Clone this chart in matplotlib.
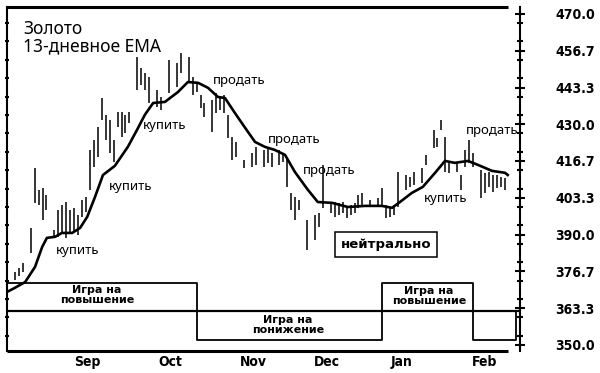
import matplotlib
matplotlib.use("Agg")
import matplotlib.pyplot as plt
from matplotlib.ticker import FixedLocator, MultipleLocator

# ---------------- data ----------------
bar_days = [2, 3, 4, 6, 7, 8, 9, 10, 12, 13, 14, 15, 16, 17, 18, 19, 20,
            21, 22, 23, 24, 25, 26, 27, 28, 29, 30, 31, 33, 34, 35, 36, 38, 39,
            41, 43, 44, 46, 47, 48, 49, 50, 52, 53, 54, 55, 56, 57, 58, 60, 62,
            63, 65, 66, 67, 69, 70, 71, 72, 73, 74, 76, 78, 79, 80, 82, 83, 84,
            85, 86, 87, 88, 89, 90, 92, 94, 95, 96, 97, 98, 99, 101, 102, 103,
            105, 106, 108, 109, 110, 111, 112, 114, 115, 116, 117, 118, 120,
            121, 122, 123, 124, 125, 126]
bar_high = [376.5, 377.9, 379.7, 392.4, 414.2, 406.2, 406.9, 404.4, 391.7, 398.9,
            400.8, 401.8, 398.9, 399.7, 397.1, 402.6, 403.7,
            420.7, 424.3, 429.0, 439.5, 433.4, 431.6, 424.3, 434.5, 434.5, 433.4,
            434.5, 454.4, 450.4, 448.6, 447.2, 442.4, 439.9,
            453.3, 452.2, 455.9, 454.4, 447.2, 445.3, 440.6, 437.7, 438.8, 441.4,
            439.9, 440.6, 433.4, 425.4, 423.6, 417.1, 419.6,
            421.8, 420.7, 421.4, 419.6, 420.7, 419.6, 418.2, 405.1, 403.7, 402.6,
            395.3, 397.1, 397.9, 415.3, 401.8, 401.8, 401.5,
            401.8, 400.0, 400.8, 401.5, 404.4, 405.1, 402.6, 403.3, 406.9, 400.8,
            400.0, 400.8, 412.7, 411.6, 410.9, 412.7,
            414.2, 418.9, 427.9, 425.0, 431.6, 425.4, 416.3, 416.0, 411.6, 420.7,
            424.3, 419.6, 413.4,
            412.4, 412.7, 411.6, 411.6, 410.9, 410.5]
bar_low = [373.6, 375.0, 376.5, 383.4, 401.5, 400.8, 395.3, 398.9, 389.2, 389.2,
           391.0, 388.8, 390.6, 391.0, 389.9, 396.4, 398.2,
           406.2, 414.5, 418.2, 431.6, 424.3, 419.6, 416.3, 429.0, 425.4, 426.8,
           430.5, 442.4, 444.3, 442.4, 437.7, 436.3, 435.2,
           441.4, 443.5, 448.6, 445.3, 440.6, 441.7, 435.9, 432.7, 427.2, 434.1,
           435.2, 434.1, 425.0, 417.1, 418.2, 414.2, 414.5,
           415.3, 414.5, 416.0, 414.5, 415.3, 416.3, 407.3, 398.9, 395.3, 398.9,
           384.4, 388.1, 392.8, 399.7, 397.9, 396.4, 397.1,
           397.9, 396.0, 397.1, 397.9, 399.7, 400.0, 400.0, 400.0, 400.0, 396.0,
           396.4, 397.1, 400.0, 406.2, 407.3, 407.9,
           408.8, 415.3, 421.4, 421.8, 427.9, 412.7, 412.4, 412.7, 406.2, 414.5,
           416.0, 414.5, 403.3,
           405.1, 407.3, 405.5, 406.9, 407.3, 406.2]

ema_days = [0, 2, 4.6, 7.1, 8.9, 10.1, 12.2, 13.9, 16.5, 18.5, 20.3, 22.3, 24.3,
            27.3, 30.6, 32.9, 34.9, 37.0, 40.0, 43.3, 45.8, 48.4, 50.9, 53.4,
            55.2, 57.7, 60.3, 62.8, 65.3, 67.8, 70.4, 72.9, 76.2, 78.7, 82.3,
            86.3, 90.6, 94.9, 97.5, 99.5, 102.5, 105.3, 108.4, 110.9, 113.4,
            116.7, 119.2, 122.8, 126.1, 126.8]
ema_vals = [369.2, 370.7, 372.8, 378.3, 385.5, 388.8, 389.2, 390.6, 390.6, 392.4,
            396.4, 403.7, 411.6, 414.9, 421.8, 427.9, 433.4, 437.7, 438.1, 441.7,
            445.3, 445.0, 443.2, 439.9, 439.5, 434.1, 428.7, 423.6, 421.8, 420.7,
            418.9, 412.7, 406.2, 401.8, 401.5, 400.0, 400.4, 400.4, 399.7, 401.8,
            405.1, 407.3, 412.4, 416.7, 416.0, 416.7, 415.3, 413.1, 412.4, 411.6]

month_labels = ["Sep", "Oct", "Nov", "Dec", "Jan", "Feb"]
month_days = [20.3, 41.3, 62.3, 81.0, 100.0, 121.0]

y_ticks = [350.0, 363.3, 376.7, 390.0, 403.3, 416.7, 430.0, 443.3, 456.7, 470.0]

regime_bounds = [0, 48, 95, 118, 129]
regime_states = [1, -1, 1, -1]
regime_labels = ["Игра на\nповышение", "Игра на\nпонижение", "Игра на\nповышение"]

signal_texts = ["купить", "купить", "купить", "продать", "продать", "продать",
                "продать", "купить"]

# ---------------- layout / style ----------------
W, H = 600, 373
fig = plt.figure(figsize=(W / 100, H / 100), dpi=100)
ax = fig.add_axes([7 / W, 22 / H, 513 / W, 344 / H])
ax.set_xlim(0, 129.9)
ax.set_ylim(347.8, 472.5)

for s in ["top", "bottom", "right"]:
    ax.spines[s].set_visible(False)
ax.spines["left"].set_linewidth(1.5)

# top and bottom frame lines (shorter than right axis)
ax.plot([0, 0.977], [1, 1], transform=ax.transAxes, color="k", lw=2.2,
        clip_on=False, solid_capstyle="butt")
ax.plot([0, 0.977], [0, 0], transform=ax.transAxes, color="k", lw=2.2,
        clip_on=False, solid_capstyle="butt")

# price bars
ax.vlines(bar_days, bar_low, bar_high, color="k", lw=1.1)
# EMA
ax.plot(ema_days, ema_vals, color="k", lw=1.9)

# regime step line
base, up, down = 362.3, 372.5, 351.8
lvl = {1: up, -1: down}
xs, ys = [regime_bounds[0]], [base]
for i, st in enumerate(regime_states):
    xs += [regime_bounds[i], regime_bounds[i + 1]]
    ys += [lvl[st], lvl[st]]
xs.append(regime_bounds[-1])
ys.append(base)
ax.axhline(base, color="k", lw=1.6)
ax.plot(xs, ys, color="k", lw=1.3)

reg_pos = [(22.8, 368.1), (71.1, 357.3), (106.8, 367.8)]
for (x, y), t in zip(reg_pos, regime_labels):
    ax.text(x, y, t, ha="center", va="center", fontsize=8, fontweight="bold",
            family="DejaVu Sans", linespacing=0.95)

# signal labels
sig_pos = [(18.0, 384.1), (31.4, 407.6), (40.0, 429.4), (58.7, 445.7),
           (72.7, 424.3), (81.5, 413.1), (122.8, 427.9), (111.1, 402.9)]
for (x, y), t in zip(sig_pos, signal_texts):
    ax.text(x, y, t, ha="center", va="center", fontsize=9.5, family="Noto Sans")

# neutral box
ax.text(96.0, 386.3, "нейтрально", ha="center", va="center", fontsize=9.5,
        fontweight="bold", family="DejaVu Sans",
        bbox=dict(boxstyle="square,pad=0.45", fc="white", ec="k", lw=1.1))

# title
ax.text(0.031, 0.962, "Золото\n13-дневное ЕМА", transform=ax.transAxes,
        ha="left", va="top", fontsize=12.5, family="Noto Sans", linespacing=0.95)

# x axis month labels
ax.set_xticks(month_days)
ax.set_xticklabels(month_labels)
ax.tick_params(axis="x", length=0, pad=3)
for lab in ax.get_xticklabels():
    lab.set_fontweight("bold")
    lab.set_fontsize(10)
    lab.set_fontstretch("condensed")

# left axis: small dots
ax.yaxis.set_major_locator(MultipleLocator(40 / 6))
ax.tick_params(axis="y", which="major", direction="inout", length=3, width=1.5,
               labelleft=False)

# right axis
ax2 = ax.twinx()
ax2.set_ylim(ax.get_ylim())
for s in ["top", "bottom", "left"]:
    ax2.spines[s].set_visible(False)
ax2.spines["right"].set_linewidth(1.5)
ax2.yaxis.set_major_locator(FixedLocator(y_ticks))
ax2.yaxis.set_minor_locator(MultipleLocator(40 / 6))
ax2.set_yticklabels([f"{v:.1f}" for v in y_ticks])
ax2.tick_params(axis="y", which="major", direction="inout", length=7, width=1.5, pad=22)
ax2.tick_params(axis="y", which="minor", direction="inout", length=5, width=1.5)
for lab in ax2.get_yticklabels():
    lab.set_fontweight("bold")
    lab.set_fontsize(10)
    lab.set_fontstretch("condensed")

fig.savefig("out.png", dpi=100)
